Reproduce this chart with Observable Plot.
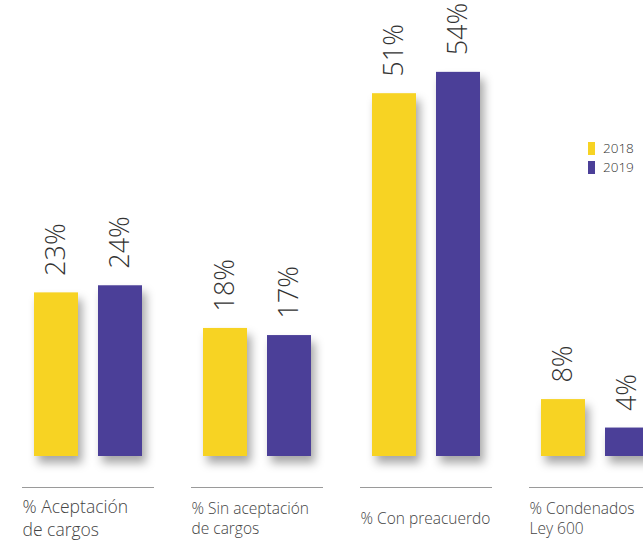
<!DOCTYPE html>
<html>
<head>
<meta charset="utf-8">
<script src="https://cdn.jsdelivr.net/npm/d3@7"></script>
<script src="https://cdn.jsdelivr.net/npm/@observablehq/plot@0.6"></script>
<style>
  html, body { margin: 0; padding: 0; background: #fff; overflow: hidden; }
  #wrap { position: relative; width: 643px; height: 543px; overflow: hidden; }
  #wrap svg { max-width: none !important; height: 543px !important; }
  #legend { position: absolute; left: 588px; top: 139px; font-family: "Open Sans", sans-serif; font-weight: 300; font-size: 13.5px; color: #333; }
  #legend .row { display: flex; align-items: center; height: 19px; }
  #legend .sw { width: 7px; height: 13px; margin-right: 8px; }
  #legend span { display: inline-block; line-height: 15px; }
</style>
</head>
<body>
<div id="wrap"></div>
<script>
const categories = ["% Aceptación\nde cargos", "% Sin aceptación\nde cargos", "% Con preacuerdo", "% Condenados\nLey 600"];
const years = ["2018", "2019"];
const values2018 = [23, 18, 51, 8];
const values2019 = [24, 17, 54, 4];
const colors = ["#F7D323", "#4B3F98"];

const rows = [];
categories.forEach((c, i) => {
  rows.push({cat: c, year: years[0], value: values2018[i]});
  rows.push({cat: c, year: years[1], value: values2019[i]});
});

const FONT = "'Open Sans', sans-serif";

const plot = Plot.plot({
  width: 661,
  height: 543,
  marginTop: 0,
  marginBottom: 87,
  marginLeft: 21,
  marginRight: 0,
  style: {background: "transparent", overflow: "hidden"},
  fx: {domain: categories, paddingInner: 0.2208, paddingOuter: 0, axis: null},
  x: {domain: years, paddingInner: 0.3125, paddingOuter: 0.1875, axis: null},
  y: {domain: [0, 64.1], axis: null},
  color: {domain: years, range: colors},
  facet: {marginTop: 0, marginBottom: 0, marginLeft: 0, marginRight: 0},
  marks: [
    Plot.barY(rows, {fx: "cat", x: "year", y: "value", fill: "year"}),
    Plot.text(rows, {
      fx: "cat", x: "year", y: "value",
      text: d => d.value + "%",
      rotate: -90, textAnchor: "start", lineAnchor: "middle",
      dy: -17, fontSize: 27, fontWeight: 300, fill: "#333",
      fontFamily: FONT
    }),
    Plot.ruleY([0], {dy: 31, stroke: "#9a9a9a", strokeWidth: 1}),
    Plot.text(categories, {
      fx: d => d, text: d => d,
      frameAnchor: "bottom-left", textAnchor: "start", lineAnchor: "middle",
      dy: 61, dx: 0, lineHeight: 1.3,
      fontSize: d => d === categories[0] ? 17.5 : 15.5,
      fontWeight: 300, fill: "#444",
      fontFamily: FONT
    })
  ]
});

plot.style.maxWidth = "none";
plot.querySelectorAll('g[aria-label="bar"] rect').forEach(r => {
  r.style.filter = "drop-shadow(4px 7px 5px rgba(0,0,0,0.35))";
});

const wrap = document.getElementById("wrap");
wrap.appendChild(plot);
const legend = document.createElement("div");
legend.id = "legend";
years.forEach((y, i) => {
  const row = document.createElement("div");
  row.className = "row";
  const sw = document.createElement("div");
  sw.className = "sw";
  sw.style.background = colors[i];
  const t = document.createElement("span");
  t.textContent = y;
  row.appendChild(sw); row.appendChild(t);
  legend.appendChild(row);
});
wrap.appendChild(legend);
</script>
</body>
</html>
